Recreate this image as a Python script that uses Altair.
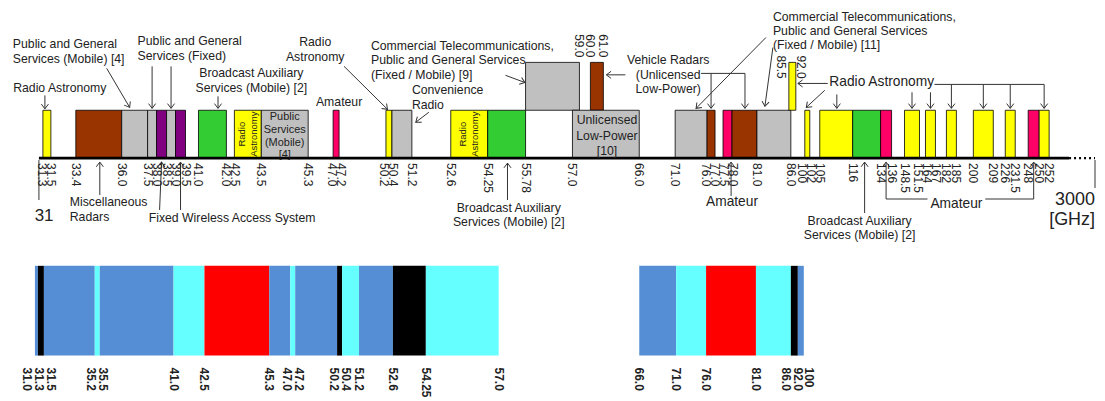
import math
import altair as alt
import numpy as np
import pandas as pd

# ---------------- data ----------------
# schematic (non-linear) frequency axis of the upper chart: GHz -> position on page
TOP_STOPS = [(30, 0), (31, 39), (31.3, 43), (31.5, 51), (33.4, 76), (36.0, 122), (37.5, 148),
             (38.0, 157), (38.5, 167), (39.0, 176), (39.5, 186), (41.0, 199), (42.0, 227),
             (42.5, 235), (43.5, 262), (45.3, 309), (47.0, 334), (47.2, 340), (50.2, 387),
             (50.4, 393), (51.2, 413), (52.6, 452), (54.25, 489), (55.78, 527), (57.0, 574),
             (59.0, 581), (60.0, 592), (61.0, 605), (66.0, 641), (71.0, 677), (76.0, 709),
             (77.0, 717), (77.5, 725), (78.0, 734), (81.0, 759), (85.5, 791), (86.0, 793),
             (92.0, 798), (100, 807), (102, 812), (105, 822), (116, 855), (134, 883), (136, 894),
             (148.5, 907), (151.5, 922), (164, 928), (167, 938), (182, 949), (185, 959),
             (200, 976), (209, 996), (226, 1008), (231.5, 1018), (248, 1031), (250, 1042),
             (252, 1052), (300, 1072), (3000, 1098), (3200, 1100)]
# schematic axis of the lower chart
BOT_STOPS = [(30, 0), (31.0, 35), (31.3, 38), (31.5, 44), (35.2, 95), (35.5, 100), (41.0, 174),
             (42.5, 205), (45.3, 270), (47.0, 291), (47.2, 296), (50.2, 338), (50.4, 343),
             (51.2, 360), (52.6, 394), (54.25, 427), (57.0, 500), (66.0, 641), (71.0, 678),
             (76.0, 708), (81.0, 758), (86.0, 793), (92.0, 800), (100, 806), (120, 1100)]

TOP_COLORS = {"ra": "#FFFF00", "rad": "#993300", "com": "#C0C0C0", "fwa": "#800080",
              "bas": "#33CC33", "ama": "#FF0066"}
# lo, hi, service, level
TOP_BANDS = [(31.3, 31.5, "ra", 0), (33.4, 36.0, "rad", 0), (36.0, 37.5, "com", 0),
             (37.5, 38.0, "com", 0), (38.0, 38.5, "fwa", 0), (38.5, 39.0, "com", 0),
             (39.0, 39.5, "fwa", 0), (41.0, 42.0, "bas", 0), (42.5, 43.5, "ra", 0),
             (43.5, 45.3, "com", 0), (47.0, 47.2, "ama", 0), (50.2, 50.4, "ra", 0),
             (50.4, 51.2, "com", 0), (52.6, 54.25, "ra", 0), (54.25, 55.78, "bas", 0),
             (55.78, 59.0, "com", 1), (60.0, 61.0, "rad", 1), (57.0, 66.0, "com", 0),
             (71.0, 76.0, "com", 0), (76.0, 77.0, "rad", 0), (77.5, 78.0, "ama", 0),
             (78.0, 81.0, "rad", 0), (81.0, 86.0, "com", 0), (85.5, 92.0, "ra", 1),
             (100, 102, "ra", 0), (105, 116, "ra", 0), (116, 134, "bas", 0), (134, 136, "ama", 0),
             (148.5, 151.5, "ra", 0), (164, 167, "ra", 0), (182, 185, "ra", 0), (200, 209, "ra", 0),
             (226, 231.5, "ra", 0), (248, 250, "ama", 0), (250, 252, "ra", 0)]

TOP_TICKS_BELOW = ["31.3", "31.5", "33.4", "36.0", "37.5", "38.0", "38.5", "39.0", "39.5", "41.0",
                   "42.0", "42.5", "43.5", "45.3", "47.0", "47.2", "50.2", "50.4", "51.2", "52.6",
                   "54.25", "55.78", "57.0", "66.0", "71.0", "76.0", "77.0", "77.5", "78.0", "81.0",
                   "86.0", "100", "102", "105", "116", "134", "136", "148.5", "151.5", "164", "167",
                   "182", "185", "200", "209", "226", "231.5", "248", "250", "252"]
TOP_TICKS_ABOVE = ["59.0", "60.0", "61.0"]
TOP_TICK_LEFT = ["85.5"]
TOP_TICK_RIGHT = ["92.0"]

BOT_COLORS = {"b": "#558ED5", "c": "#66FFFF", "r": "#FF0000", "k": "#000000"}
BOT_BANDS = [(31.0, 31.3, "b"), (31.3, 31.5, "k"), (31.5, 35.2, "b"), (35.2, 35.5, "c"),
             (35.5, 41.0, "b"), (41.0, 42.5, "c"), (42.5, 45.3, "r"), (45.3, 47.0, "b"),
             (47.0, 47.2, "c"), (47.2, 50.2, "b"), (50.2, 50.4, "k"), (50.4, 51.2, "c"),
             (51.2, 52.6, "b"), (52.6, 54.25, "k"), (54.25, 57.0, "c"),
             (66.0, 71.0, "b"), (71.0, 76.0, "c"), (76.0, 81.0, "r"), (81.0, 86.0, "c"),
             (86.0, 92.0, "k"), (92.0, 100, "b")]
BOT_TICKS = ["31.0", "31.3", "31.5", "35.2", "35.5", "41.0", "42.5", "45.3", "47.0", "47.2",
             "50.2", "50.4", "51.2", "52.6", "54.25", "57.0", "66.0", "71.0", "76.0", "81.0",
             "86.0", "92.0", "100"]

# annotations: text, GHz, level of the block centre (bar height = 1)
NOTES_CENTER = [("Radio Astronomy", 32.18, 1.458),
                ("Broadcast Auxiliary\nServices (Mobile) [2]", 43.13, 1.625),
                ("Amateur", 47.2, 1.167),
                ("Radio\nAstronomy", 45.78, 2.27),
                ("Broadcast Auxiliary\nServices (Mobile) [2]", 55.1, -1.19),
                ("Vehicle Radars\n(Unlicensed\nLow-Power)", 70.03, 1.74),
                ("Broadcast Auxiliary\nServices (Mobile) [2]", 120.5, -1.458)]
NOTES_CENTER_BIG = [("Radio Astronomy", 134.2, 1.583), ("Amateur", 78.0, -0.917),
                    ("Amateur", 185, -0.958)]
NOTES_LEFT = [("Public and General\nServices (Mobile) [4]", 30.33, 2.229),
              ("Public and General\nServices (Fixed)", 36.92, 2.29),
              ("Convenience\nRadio", 51.2, 1.27),
              ("Commercial Telecommunications,\nPublic and General Services\n(Fixed / Mobile) [9]", 49.24, 2.04),
              ("Commercial Telecommunications,\nPublic and General Services\n(Fixed / Mobile) [11]", 83.25, 2.656),
              ("Miscellaneous\nRadars", 32.94, -1.073),
              ("Fixed Wireless Access System", 37.56, -1.25)]
NOTES_LARGE_CENTER = [("31", 31.33, -1.21)]
NOTES_LARGE_RIGHT = [("3000", 3000, -0.875), ("[GHz]", 3000, -1.29)]
IN_BAR_VERTICAL = [("Radio\nAstronomy", 42.5, 43.5), ("Radio\nAstronomy", 52.6, 54.25)]
IN_BAR_SMALL = [("Public\nServices\n(Mobile)\n[4]", 43.5, 45.3)]
IN_BAR = [("Unlicensed\nLow-Power\n[10]", 57.0, 66.0)]

# x1, level1, x2, level2, arrow head at (x2, level2)
ARROWS = [(31.35, 1.31, 31.35, 1.03, True), (35.15, 1.875, 36.46, 1.06, True),
          (37.75, 1.917, 37.75, 1.04, True), (38.75, 1.917, 38.75, 1.04, True),
          (41.7, 1.29, 41.7, 1.04, True), (47.52, 1.917, 50.25, 1.02, True),
          (51.81, 0.958, 51.34, 0.75, True), (54.97, 1.73, 55.75, 1.58, True),
          (55.05, -0.875, 55.05, -0.104, True),
          (64.06, 1.74, 61.42, 1.74, True),
          (75.06, 1.77, 79.56, 1.77, False), (76.5, 1.77, 76.5, 1.04, True),
          (79.56, 1.77, 79.56, 1.04, True),
          (82.27, 2.52, 74.28, 1.04, True), (83.25, 2.31, 82.125, 1.083, True),
          (107.67, 1.56, 93.8, 1.56, True), (106.67, 1.417, 100.6, 1.06, True),
          (110.7, 1.33, 110.7, 1.04, True), (150, 1.375, 150, 1.04, True),
          (165.5, 1.375, 165.5, 1.04, True),
          (166.7, 1.54, 251, 1.54, False), (183.5, 1.54, 183.5, 1.04, True),
          (204.5, 1.54, 204.5, 1.04, True), (228.75, 1.54, 228.75, 1.04, True),
          (251, 1.54, 251, 1.04, True),
          (77.95, -0.79, 77.95, -0.083, True),
          (164.6, -0.854, 135, -0.854, False), (135, -0.854, 135, -0.083, True),
          (205.4, -0.854, 249, -0.854, False), (249, -0.854, 249, -0.083, True),
          (123.7, -1.146, 123.7, -0.083, True), (34.76, -0.77, 34.76, -0.083, True),
          (38.15, -1.083, 38.25, -0.083, True), (39.25, -1.083, 39.25, -0.083, True),
          (31, -0.04, 31, -0.875, False), (3000, -0.04, 3000, -0.625, False)]

AXIS_SOLID = (31, 300)
AXIS_DOTTED = (300, 3000)

# ---------------- layout ----------------
W, H = 1092, 390
MARGIN = 8
TOP_BASE_PX, TOP_UNIT_PX = 158, 48
BOT_BASE_PX, BOT_UNIT_PX = 356, 90
FONT = "Liberation Sans, Arial, sans-serif"
INK = "#222222"

TG = [g for g, _ in TOP_STOPS]
TP = [p for _, p in TOP_STOPS]
BG = [g for g, _ in BOT_STOPS]
BP = [p for _, p in BOT_STOPS]

top_x = alt.Scale(domain=TG, range=[p - MARGIN for p in TP], nice=False, zero=False)
bot_x = alt.Scale(domain=BG, range=[p - MARGIN for p in BP], nice=False, zero=False)
top_y = alt.Scale(domain=[(TOP_BASE_PX - MARGIN - H) / TOP_UNIT_PX, (TOP_BASE_PX - MARGIN) / TOP_UNIT_PX],
                  range=[H, 0], nice=False, zero=False)
bot_y = alt.Scale(domain=[(BOT_BASE_PX - MARGIN - H) / BOT_UNIT_PX, (BOT_BASE_PX - MARGIN) / BOT_UNIT_PX],
                  range=[H, 0], nice=False, zero=False)


def spread(pos, gap):
    clusters = [[p] for p in pos]

    def place(c):
        m = sum(c) / len(c)
        return [m + (i - (len(c) - 1) / 2) * gap for i in range(len(c))]

    changed = True
    while changed:
        changed = False
        out = [clusters[0]]
        for c in clusters[1:]:
            if place(out[-1])[-1] + gap > place(c)[0] + 1e-9:
                out[-1] = out[-1] + c
                changed = True
            else:
                out.append(c)
        clusters = out
    res = []
    for c in clusters:
        res += place(c)
    return res


def tick_frame(labels, G, P, gap, level):
    vals = [float(s) for s in labels]
    px = list(np.interp(vals, G, P))
    sp = spread(px, gap) if gap else px
    xs = np.interp(sp, P, G)
    return pd.DataFrame({"t": labels, "x": xs, "y": level})


def enc(sx, sy):
    return dict(x=alt.X("x:Q", scale=sx, axis=None), y=alt.Y("y:Q", scale=sy, axis=None))


def text_df(rows, size, lh=0.0, unit=TOP_UNIT_PX):
    # Vega puts the first line of a multi-line text at the anchor: lift the anchor
    # so that the block is centred on the given level
    ys = [r[2] + (r[0].count("\n")) / 2 * lh / unit for r in rows]
    return pd.DataFrame({"t": [r[0] for r in rows], "x": [r[1] for r in rows],
                         "y": ys, "s": size})


def text_layer(df, sx, sy, **mark):
    return alt.Chart(df).mark_text(font=FONT, color=INK, lineBreak="\n", **mark).encode(
        text="t:N", size=alt.Size("s:Q", scale=None, legend=None), **enc(sx, sy))


layers = []

# ---- upper chart: bands ----
tb = pd.DataFrame(TOP_BANDS, columns=["lo", "hi", "svc", "lvl"])
tb["color"] = tb["svc"].map(TOP_COLORS)
tb["base"] = tb["lvl"]
tb["top"] = tb["lvl"] + 1
layers.append(alt.Chart(tb).mark_rect(stroke="#000000", strokeWidth=0.8).encode(
    x=alt.X("lo:Q", scale=top_x, axis=None), x2="hi:Q",
    y=alt.Y("base:Q", scale=top_y, axis=None), y2="top:Q",
    fill=alt.Fill("color:N", scale=None, legend=None)))

# ---- axis line ----
ax = pd.DataFrame({"a": [AXIS_SOLID[0]], "b": [AXIS_SOLID[1]], "y": [0.0]})
layers.append(alt.Chart(ax).mark_rule(color="#000000", strokeWidth=3).encode(
    x=alt.X("a:Q", scale=top_x, axis=None), x2="b:Q", y=alt.Y("y:Q", scale=top_y, axis=None)))
axd = pd.DataFrame({"a": [AXIS_DOTTED[0]], "b": [AXIS_DOTTED[1]], "y": [0.0]})
layers.append(alt.Chart(axd).mark_rule(color="#000000", strokeWidth=2.5, strokeDash=[2, 3]).encode(
    x=alt.X("a:Q", scale=top_x, axis=None), x2="b:Q", y=alt.Y("y:Q", scale=top_y, axis=None)))

# ---- arrows ----
ar = pd.DataFrame(ARROWS, columns=["x1", "y1", "x2", "y2", "head"])
layers.append(alt.Chart(ar).mark_rule(color="#333333", strokeWidth=1).encode(
    x=alt.X("x1:Q", scale=top_x, axis=None), x2="x2:Q",
    y=alt.Y("y1:Q", scale=top_y, axis=None), y2="y2:Q"))
hd = ar[ar["head"]].copy()
x1p = np.interp(hd["x1"], TG, TP)
x2p = np.interp(hd["x2"], TG, TP)
y1p = TOP_BASE_PX - TOP_UNIT_PX * hd["y1"]
y2p = TOP_BASE_PX - TOP_UNIT_PX * hd["y2"]
hd["angle"] = [(math.degrees(math.atan2(-(b - a), (d - c))) + 360) % 360
               for a, b, c, d in zip(x1p, x2p, y1p, y2p)]
hd["x"] = hd["x2"]
hd["y"] = hd["y2"]
layers.append(alt.Chart(hd).mark_point(shape="M-0.75,-1L0,0L0.75,-1", filled=False, size=90,
                                       stroke="#333333", strokeWidth=1, opacity=1).encode(
    angle=alt.Angle("angle:Q", scale=None), **enc(top_x, top_y)))

# ---- text inside bands ----
layers.append(text_layer(pd.DataFrame({"t": [r[0] for r in IN_BAR_VERTICAL],
                                       "x": [(r[1] + r[2]) / 2 for r in IN_BAR_VERTICAL],
                                       "y": 0.5, "s": 9.5}),
                         top_x, top_y, angle=270, align="center", baseline="middle",
                         lineHeight=12.5, dy=-6.25))
layers.append(text_layer(text_df([(r[0], (r[1] + r[2]) / 2, 0.458) for r in IN_BAR_SMALL], 11, 12.7),
                         top_x, top_y, align="center", baseline="middle", lineHeight=12.7))
layers.append(text_layer(text_df([(r[0], (r[1] + r[2]) / 2, 0.469) for r in IN_BAR], 12.3, 15.5),
                         top_x, top_y, align="center", baseline="middle", lineHeight=15.5))

# ---- annotations ----
layers.append(text_layer(text_df(NOTES_CENTER, 12.3, 14.5), top_x, top_y,
                         align="center", baseline="middle", lineHeight=14.5))
layers.append(text_layer(text_df(NOTES_CENTER_BIG, 13.8, 15), top_x, top_y,
                         align="center", baseline="middle", lineHeight=15))
layers.append(text_layer(text_df(NOTES_LEFT, 12.3, 14.5), top_x, top_y,
                         align="left", baseline="middle", lineHeight=14.5))
layers.append(text_layer(text_df(NOTES_LARGE_CENTER, 17), top_x, top_y,
                         align="center", baseline="middle"))
layers.append(text_layer(text_df(NOTES_LARGE_RIGHT, 18), top_x, top_y,
                         align="right", baseline="middle"))

# ---- upper tick labels ----
tl = tick_frame(TOP_TICKS_BELOW, TG, TP, 9, -0.104)
tl["s"] = 12
layers.append(text_layer(tl, top_x, top_y, angle=90, align="left", baseline="middle"))
ta = tick_frame(TOP_TICKS_ABOVE, TG, TP, 9, 2.104)
ta["s"] = 12
layers.append(text_layer(ta, top_x, top_y, angle=90, align="right", baseline="middle"))
tlf = tick_frame(TOP_TICK_LEFT, TG, TP, 0, 2.146)
tlf["s"] = 12
layers.append(text_layer(tlf, top_x, top_y, angle=90, align="left", baseline="middle", dy=8))
trt = tick_frame(TOP_TICK_RIGHT, TG, TP, 0, 2.146)
trt["s"] = 12
layers.append(text_layer(trt, top_x, top_y, angle=90, align="left", baseline="middle", dy=-5))

# ---- lower chart ----
bb = pd.DataFrame(BOT_BANDS, columns=["lo", "hi", "k"])
bb["color"] = bb["k"].map(BOT_COLORS)
bb["base"] = 0.0
bb["top"] = 1.0
layers.append(alt.Chart(bb).mark_rect().encode(
    x=alt.X("lo:Q", scale=bot_x, axis=None), x2="hi:Q",
    y=alt.Y("base:Q", scale=bot_y, axis=None), y2="top:Q",
    fill=alt.Fill("color:N", scale=None, legend=None)))
bl = tick_frame(BOT_TICKS, BG, BP, 12, -0.133)
bl["s"] = 12
layers.append(text_layer(bl, bot_x, bot_y, angle=90, align="left", baseline="middle",
                         fontWeight="bold"))

chart = alt.layer(*layers).resolve_scale(x="independent", y="independent").properties(
    width=W, height=H, padding=0, autosize=alt.AutoSizeParams(type="none"),
    background="#FFFFFF").configure_view(stroke=None)

chart.save("out.html", embed_options={"renderer": "svg", "actions": False})
